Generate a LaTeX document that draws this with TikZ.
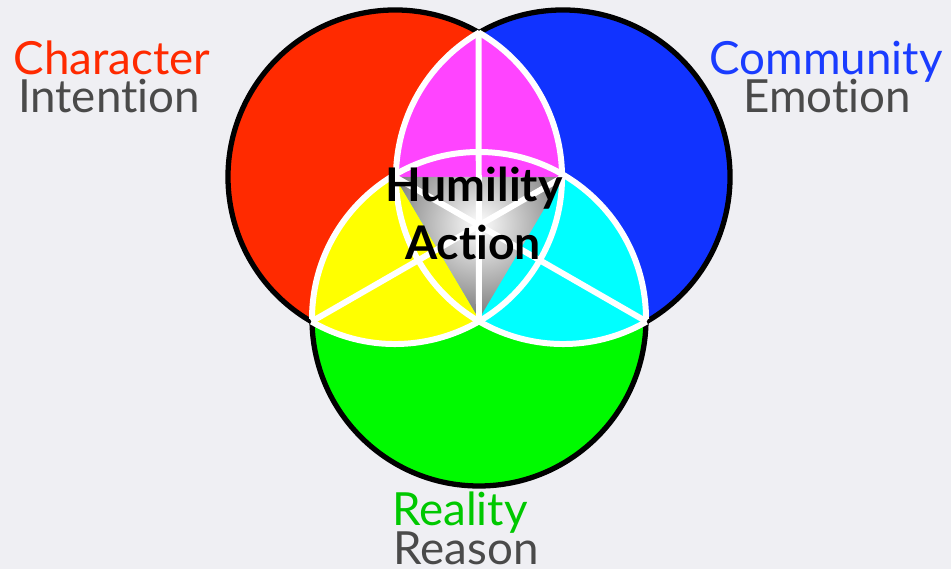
\documentclass[tikz,border=0pt]{standalone}
\usepackage{fontspec}
\setmainfont{Lato}[Ligatures=NoCommon]
\usepackage{xcolor}
\definecolor{PaperGray}{HTML}{EFEFF3}
\definecolor{VennRed}{HTML}{FF2A00}
\definecolor{VennBlue}{HTML}{1133FF}
\definecolor{VennGreen}{HTML}{00FA00}
\definecolor{VennMagenta}{HTML}{FF44FF}
\definecolor{VennYellow}{HTML}{FFFF00}
\definecolor{VennCyan}{HTML}{00FFFF}
\definecolor{LabelRed}{HTML}{FF2A00}
\definecolor{LabelBlue}{HTML}{1A3CFF}
\definecolor{LabelGreen}{HTML}{00C800}
\definecolor{LabelGray}{HTML}{4A4A4A}

\begin{document}
\begin{tikzpicture}[
    outline/.style={black, line width=1.5pt},
    seam/.style={white, line width=1.7pt},
    label/.style={font=\fontsize{13}{13}\selectfont, anchor=base, inner sep=0pt},
    core/.style={font=\fontsize{13.2}{13.2}\selectfont\bfseries, anchor=base, inner sep=0pt, black}
  ]
                % Paper
                \fill[PaperGray] (0,0) rectangle (9.51,5.69);
                \useasboundingbox (0,0) rectangle (9.51,5.69);

                % Centres and outer crossings
                \coordinate (red) at (3.95, 3.92);
                \coordinate (blue) at (5.63, 3.92);
                \coordinate (green) at (4.79, 2.50);
                \coordinate (mid) at (4.79, 3.447);
                \coordinate (top) at ([shift={(60:1.67)}]red);
                \coordinate (lowleft) at ([shift={(240:1.67)}]red);
                \coordinate (lowright) at ([shift={(-60:1.67)}]blue);

                % Circles
                \fill[VennRed] (red) circle (1.67);
                \fill[VennBlue] (blue) circle (1.67);
                \fill[VennGreen] (green) circle (1.67);

                % Overlaps
                \begin{scope}
                  \clip (red) circle (1.67);
                  \fill[VennYellow] (green) circle (1.67);
                  \fill[VennMagenta] (blue) circle (1.67);
                \end{scope}
                \begin{scope}
                  \clip (blue) circle (1.67);
                  \fill[VennCyan] (green) circle (1.67);
                  \fill[VennYellow] (red) -- (green) -- (lowleft) -- cycle;
                \end{scope}
                \begin{scope}
                  \clip (green) circle (1.67);
                  \fill[VennMagenta] (red) -- (blue) -- (top) -- cycle;
                \end{scope}

                % Centre triangle
                \begin{scope}
                  \clip (red) -- (blue) -- (green) -- cycle;
                  \shade[inner color=white, outer color=black!72] (mid) circle (1.3);
                \end{scope}

                % Outer rims
                \draw[outline] ([shift={(60:1.67)}]red) arc[start angle=60, end angle=240, radius=1.67];
                \draw[outline] ([shift={(120:1.67)}]blue) arc[start angle=120, end angle=-60, radius=1.67];
                \draw[outline] ([shift={(180:1.67)}]green) arc[start angle=180, end angle=360, radius=1.67];

                % Inner seams
                \draw[seam] ([shift={(60:1.67)}]red) arc[start angle=60, end angle=-120, radius=1.67];
                \draw[seam] ([shift={(120:1.67)}]blue) arc[start angle=120, end angle=300, radius=1.67];
                \draw[seam] ([shift={(180:1.67)}]green) arc[start angle=180, end angle=0, radius=1.67];
                \draw[seam] (top) -- (green);
                \draw[seam] (lowleft) -- (blue);
                \draw[seam] (lowright) -- (red);

                % Labels
                \node[label, LabelRed] (character) at (1.12, 4.94) {Character};
                \node[label, LabelGray] (intention) at (1.09, 4.56) {Intention};
                \node[label, LabelBlue] (community) at (8.26, 4.94) {Community};
                \node[label, LabelGray] (emotion) at (8.27, 4.56) {Emotion};
                \node[label, LabelGreen] (reality) at (4.60, 0.44) {Reality};
                \node[label, LabelGray] (reason) at (4.66, 0.05) {Reason};
                \node[core] (humility) at (4.74, 3.67) {Humility};
                \node[core] (action) at (4.73, 3.09) {Action};
            \end{tikzpicture}
\end{document}
